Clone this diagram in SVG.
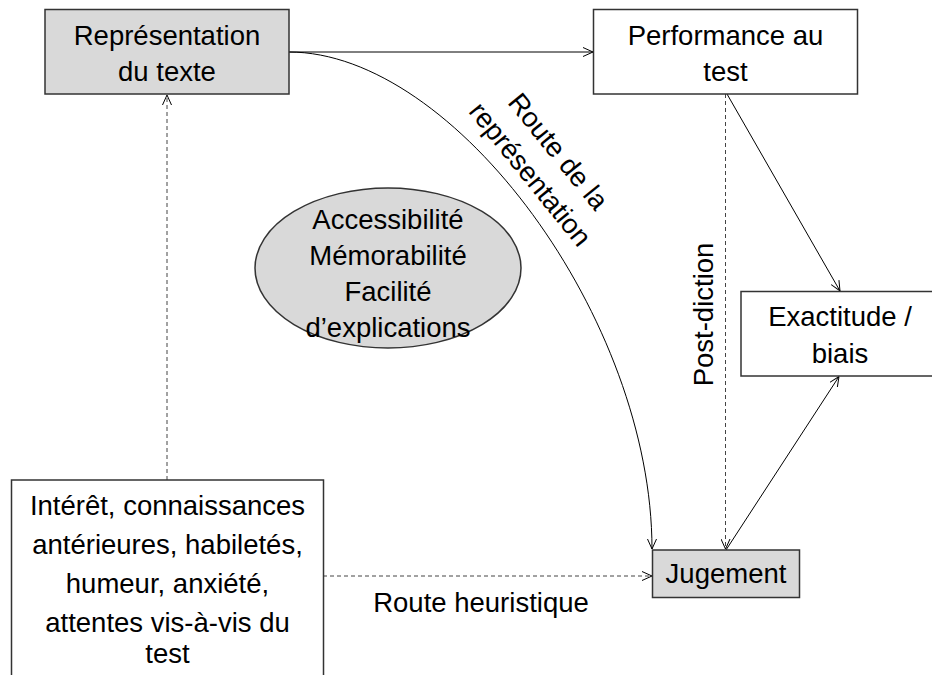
<svg xmlns="http://www.w3.org/2000/svg" width="932" height="675" viewBox="0 0 932 675">
<defs>
<marker id="arr" viewBox="0 0 10 10" refX="10" refY="5" markerWidth="10" markerHeight="10" markerUnits="userSpaceOnUse" orient="auto">
<path d="M0,0.5 L10,5 L0,9.5" fill="none" stroke="#000" stroke-width="1"/>
</marker>
<style>
.box{stroke:#333;stroke-width:1.5}
.grey{fill:#d9d9d9}
.white{fill:#fff}
text{font-family:"Liberation Sans",Arial,sans-serif;font-size:27.5px;fill:#000;text-anchor:middle}
.ln{fill:none;stroke:#000;stroke-width:1}
.dash{fill:none;stroke:#444;stroke-width:1;stroke-dasharray:4 3}
</style>
</defs>
<rect width="932" height="675" fill="#fff"/>
<g id="connectors">
<path class="ln" d="M289,52 L593,52" marker-end="url(#arr)"/>
<path class="ln" d="M289,52 C455,52 652,320 652,549" marker-end="url(#arr)"/>
<path class="dash" d="M167,480 L167,95" marker-end="url(#arr)"/>
<path class="dash" d="M323,576 L652,576" marker-end="url(#arr)"/>
<path class="dash" d="M725.5,94 L725.5,549" marker-end="url(#arr)"/>
<path class="ln" d="M727,94 L840,291" marker-end="url(#arr)"/>
<path class="ln" d="M726,550 L839,376.5" marker-end="url(#arr)"/>
</g>
<g id="representation">
<rect class="box grey" x="45" y="9.5" width="244" height="84.5"/>
<text x="167" y="45">Représentation</text>
<text x="167" y="81">du texte</text>
</g>
<g id="performance">
<rect class="box white" x="593.5" y="9.5" width="264" height="84.5"/>
<text x="725.5" y="44.5">Performance au</text>
<text x="725.5" y="81">test</text>
</g>
<g id="exactitude">
<rect class="box white" x="741" y="291.5" width="200" height="84.5"/>
<text x="840" y="326">Exactitude /</text>
<text x="840" y="362.5">biais</text>
</g>
<g id="facteurs">
<ellipse class="box grey" cx="388" cy="268" rx="133" ry="80"/>
<text x="388" y="229">Accessibilité</text>
<text x="388" y="265">Mémorabilité</text>
<text x="388" y="301">Facilité</text>
<text x="388" y="337">d’explications</text>
</g>
<g id="jugement">
<rect class="box grey" x="652.5" y="550" width="147" height="47.5"/>
<text x="726" y="583">Jugement</text>
</g>
<g id="interet">
<rect class="box white" x="11.5" y="480" width="312" height="220"/>
<text x="167.5" y="515">Intérêt, connaissances</text>
<text x="167.5" y="553.5">antérieures, habiletés,</text>
<text x="167.5" y="592.5">humeur, anxiété,</text>
<text x="167.5" y="631.5">attentes vis-à-vis du</text>
<text x="167.5" y="662.5">test</text>
</g>
<g id="labels">
<g transform="translate(544,163) rotate(51)">
<text x="0" y="-9">Route de la</text>
<text x="0" y="27">représentation</text>
</g>
<text transform="translate(713,314.5) rotate(-90)" x="0" y="0">Post-diction</text>
<text x="481" y="611.5">Route heuristique</text>
</g>
</svg>
